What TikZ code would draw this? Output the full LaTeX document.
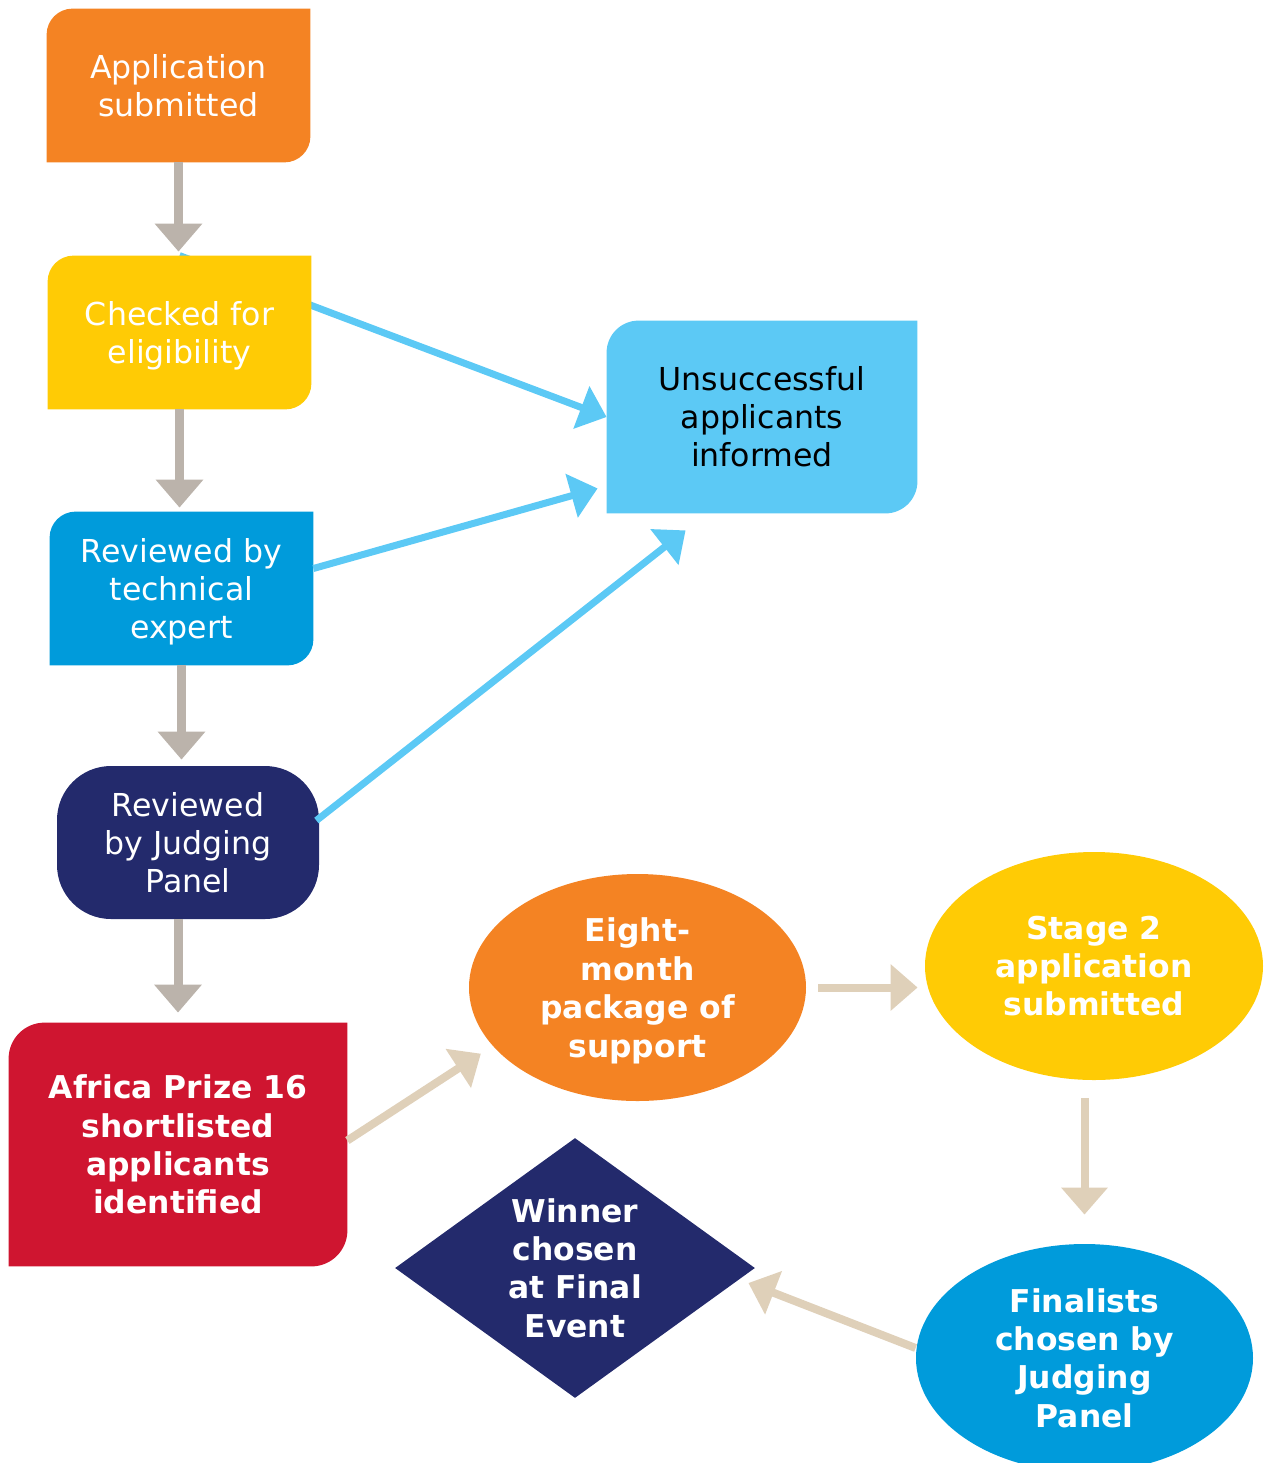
\documentclass[tikz,border=0pt]{standalone}
\usepackage{fontspec}
\setmainfont{DejaVu Sans}
\usetikzlibrary{arrows.meta,shapes.geometric,backgrounds}

\definecolor{apporange}{HTML}{F48323}
\definecolor{eligyellow}{HTML}{FFCB05}
\definecolor{techblue}{HTML}{009BDB}
\definecolor{judgenavy}{HTML}{232A6C}
\definecolor{skyblue}{HTML}{5CC9F5}
\definecolor{prizered}{HTML}{CF1530}
\definecolor{arrgray}{HTML}{BBB3AB}
\definecolor{arrbeige}{HTML}{DFD0B9}

\begin{document}
\begin{tikzpicture}[x=0.5pt,y=-0.5pt,
    box/.style={inner sep=0pt,align=center,text=white,font=\fontsize{15.8}{19}\selectfont},
    bbox/.style={box,font=\fontsize{15.7}{19.2}\selectfont\bfseries},
    grayarrow/.style={line width=4.5pt,color=arrgray,-{Triangle[width=23pt,length=14pt]}},
    bluearrow/.style={line width=3.5pt,color=skyblue,-{Triangle[width=22pt,length=13.5pt]}},
    beigearrow/.style={line width=4pt,color=arrbeige,-{Triangle[width=22.5pt,length=13.5pt]}}]

      \useasboundingbox (0,0) rectangle (1272,1463);

      % first round
      \node[box,minimum width=131.5pt,minimum height=76.5pt] (app) at (178.5,85.5) {Application\\submitted};
      \node[box,minimum width=131.5pt,minimum height=76.5pt] (chk) at (179.5,332.5) {Checked for\\\smash{eligibility}};
      \node[box,minimum width=131.5pt,minimum height=76.5pt] (tech) at (181.5,588.5) {Reviewed by\\technical\\\smash{expert}};
      \node[box,fill=judgenavy,rounded corners=27pt,minimum width=131pt,minimum height=76.5pt] (judge) at (188,842.5) {Reviewed\\by Judging\\Panel};
      \node[box,text=black,minimum width=155pt,minimum height=96pt] (unsuc) at (762,417) {Unsuccessful\\applicants\\informed};
      \node[bbox,minimum width=169pt,minimum height=121.5pt] (prize) at (178,1144.5) {Africa Prize 16\\shortlisted\\applicants\\identified};

      % second round
      \node[bbox,ellipse,fill=apporange,minimum width=168.5pt,minimum height=113.5pt] (eight) at (637.5,987.5) {Eight-\\month\\package of\\\smash{support}};
      \node[bbox,ellipse,fill=eligyellow,minimum width=169pt,minimum height=114pt] (stage) at (1094,966) {Stage 2\\application\\submitted};
      \node[bbox,ellipse,fill=techblue,minimum width=168.5pt,minimum height=114pt] (final) at (1084.5,1358) {Finalists\\chosen by\\Judging\\Panel};
      \node[bbox,diamond,aspect=1.385,fill=judgenavy,minimum width=180pt,minimum height=130pt] (winner) at (575,1268) {Winner\\chosen\\at Final\\Event};

      \begin{scope}[on background layer]
        \draw[bluearrow] (chk.north) -- (unsuc.west);
        \foreach \n/\c/\r in {app/apporange/13pt, chk/eligyellow/13pt, tech/techblue/13pt, unsuc/skyblue/16pt, prize/prizered/18pt}
          \fill[\c] (\n.south west) -- ([yshift=-\r]\n.north west) arc[start angle=180,end angle=90,radius=\r]
            -- (\n.north east) -- ([yshift=\r]\n.south east) arc[start angle=0,end angle=-90,radius=\r] -- cycle;
      \end{scope}

      \draw[grayarrow,shorten >=2pt] (app) -- (app |- chk.north);
      \draw[grayarrow,shorten >=2pt] (chk) -- (chk |- tech.north);
      \draw[grayarrow,shorten >=3pt] (tech) -- (tech |- judge.north);
      \draw[grayarrow,shorten >=5pt] (prize |- judge.south) -- (prize);

      \draw[bluearrow] ([yshift=10pt]tech.east) -- ([xshift=-4.5pt,yshift=12.5pt]unsuc.south west);
      \draw[bluearrow] ([xshift=-1.5pt,yshift=11pt]judge.east) -- ([xshift=39.5pt,yshift=-8.5pt]unsuc.south west);

      \draw[beigearrow,shorten >=7pt] ([yshift=2pt]prize.east) -- (eight.202);
      \draw[beigearrow,shorten <=6pt,shorten >=3.5pt] (eight.east) -- (eight.east -| stage.west);
      \draw[beigearrow,shorten <=9pt,shorten >=14.5pt] (final.north |- stage.south) -- (final.north);
      \draw[beigearrow] ([yshift=5pt]final.west) -- ([xshift=-3.5pt,yshift=-7.5pt]winner.east);

    \end{tikzpicture}
\end{document}
